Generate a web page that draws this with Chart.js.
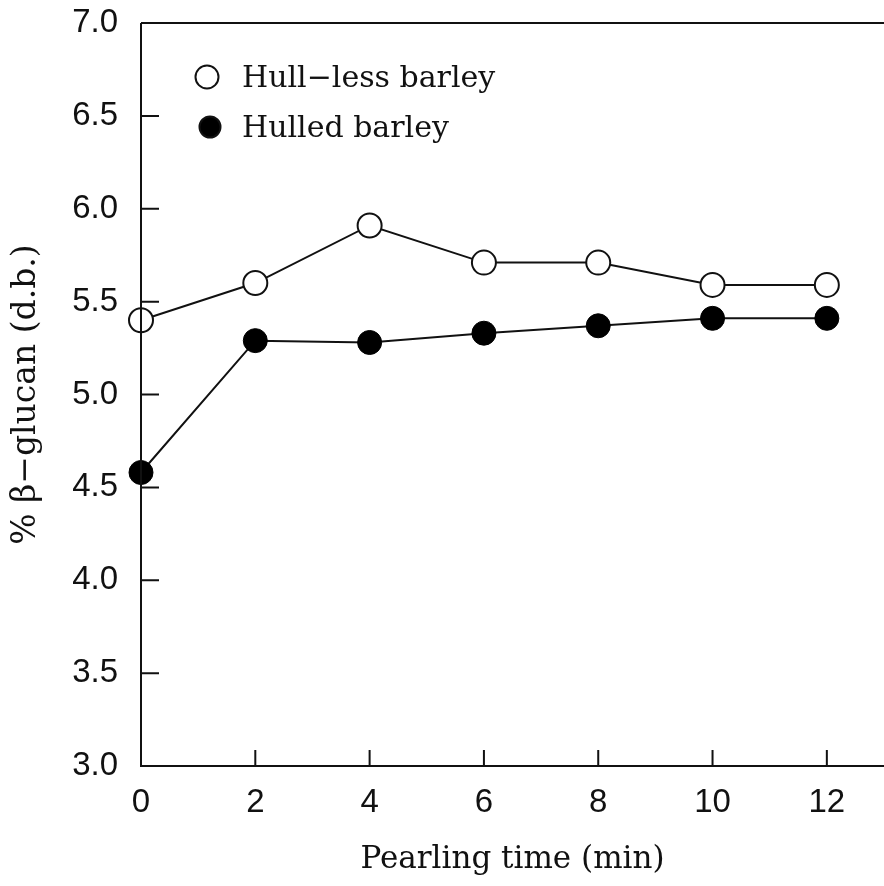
<!DOCTYPE html>
<html lang="en">
<head>
  <meta charset="UTF-8">
  <title>Beta-glucan vs pearling time</title>
  <script src="https://cdn.jsdelivr.net/npm/chart.js"></script>
  <style>
    body { margin: 0; background: #fff; }
    canvas { display: block; }
  </style>
</head>
<body>
  <canvas id="glucanChart" width="884" height="886"></canvas>

  <script>
    // values
    const pearlingTimes = [0, 2, 4, 6, 8, 10, 12];
    const hullLess = [5.40, 5.60, 5.91, 5.71, 5.71, 5.59, 5.59];
    const hulled = [4.58, 5.29, 5.28, 5.33, 5.37, 5.41, 5.41];
    const seriesNames = ['Hull\u2212less barley', 'Hulled barley'];

    const serif = 'DejaVu Serif, serif';
    const sans = 'Liberation Sans, Arial, sans-serif';

    function toPoints(ys) {
      return pearlingTimes.map((t, i) => ({ x: t, y: ys[i] }));
    }

    // inward tick marks, frame lines and the in-plot legend
    const frame = {
      id: 'frame',
      afterDatasetsDraw(chart) {
        const ctx = chart.ctx;
        const area = chart.chartArea;
        const xs = chart.scales.x, ys = chart.scales.y;
        ctx.save();
        ctx.strokeStyle = '#111';
        ctx.lineWidth = 2;
        ctx.beginPath();
        ctx.moveTo(area.left, area.top);
        ctx.lineTo(area.right, area.top);
        ctx.moveTo(area.left, area.top);
        ctx.lineTo(area.left, area.bottom);
        ctx.lineTo(area.right, area.bottom);
        ys.ticks.forEach((t, i) => {
          const py = ys.getPixelForTick(i);
          ctx.moveTo(area.left, py);
          ctx.lineTo(area.left + 18, py);
        });
        xs.ticks.forEach((t, i) => {
          const px = xs.getPixelForTick(i);
          ctx.moveTo(px, area.bottom);
          ctx.lineTo(px, area.bottom - 16);
        });
        ctx.stroke();

        // legend
        const rows = [{ mx: 207, my: 77, r: 11.5 }, { mx: 210, my: 127, r: 10.5 }];
        ctx.font = '30px ' + serif;
        ctx.textBaseline = 'middle';
        chart.data.datasets.forEach((ds, i) => {
          const r = rows[i];
          ctx.beginPath();
          ctx.arc(r.mx, r.my, r.r, 0, Math.PI * 2);
          ctx.fillStyle = ds.pointBackgroundColor;
          ctx.fill();
          ctx.lineWidth = 2;
          ctx.strokeStyle = '#111';
          ctx.stroke();
          ctx.fillStyle = '#111';
          ctx.fillText(ds.label, 242, r.my + 2);
        });
        ctx.restore();
      }
    };

    const ctx = document.getElementById('glucanChart').getContext('2d');
    new Chart(ctx, {
      type: 'line',
      data: {
        datasets: [
          {
            label: seriesNames[0],
            data: toPoints(hullLess),
            borderColor: '#111',
            borderWidth: 2,
            pointRadius: 12,
            pointBorderWidth: 2,
            pointBackgroundColor: '#fff',
            pointBorderColor: '#111',
            clip: false
          },
          {
            label: seriesNames[1],
            data: toPoints(hulled),
            borderColor: '#111',
            borderWidth: 2,
            pointRadius: 12,
            pointBorderWidth: 1,
            pointBackgroundColor: '#000',
            pointBorderColor: '#000',
            clip: false
          }
        ]
      },
      options: {
        responsive: false,
        animation: false,
        layout: {
          autoPadding: false,
          padding: { top: 23, right: 0, bottom: 0, left: 0 }
        },
        plugins: {
          legend: { display: false },
          tooltip: { enabled: false }
        },
        scales: {
          x: {
            type: 'linear',
            min: 0,
            max: 13,
            afterFit(scale) {
              scale.height = 120;
              scale.paddingLeft = 0;
              scale.paddingRight = 0;
            },
            border: { display: false },
            grid: { display: false, drawTicks: false },
            ticks: {
              stepSize: 2,
              includeBounds: false,
              padding: 17,
              color: '#111',
              font: { family: sans, size: 33 }
            },
            title: {
              display: true,
              text: 'Pearling time (min)',
              color: '#111',
              font: { family: serif, size: 31 },
              padding: { top: 0, bottom: 7 }
            }
          },
          y: {
            min: 3,
            max: 7,
            afterFit(scale) {
              scale.width = 141;
              scale.paddingTop = 0;
              scale.paddingBottom = 0;
            },
            border: { display: false },
            grid: { display: false, drawTicks: false },
            ticks: {
              stepSize: 0.5,
              padding: 23,
              color: '#111',
              font: { family: sans, size: 33 },
              callback: v => v.toFixed(1)
            },
            title: {
              display: true,
              text: '% \u03b2\u2212glucan (d.b.)',
              color: '#111',
              font: { family: serif, size: 33 },
              padding: { top: 7, bottom: 0 }
            }
          }
        }
      },
      plugins: [frame]
    });
  </script>
</body>
</html>
